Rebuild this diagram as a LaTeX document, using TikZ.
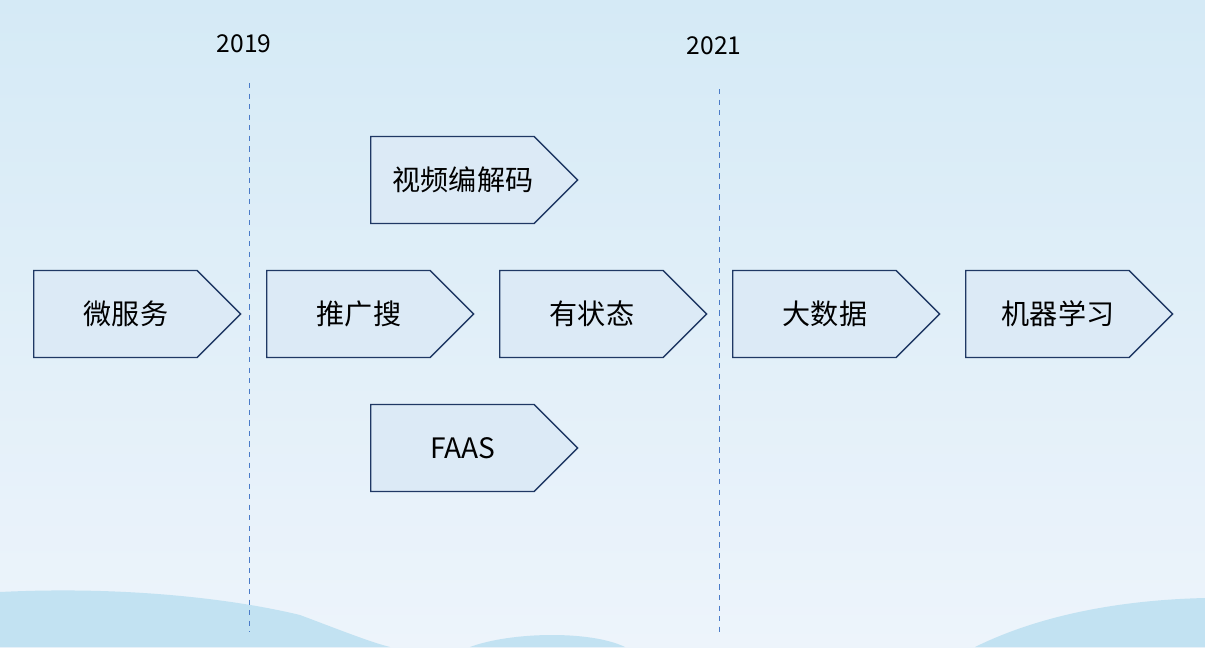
\documentclass[tikz,border=0pt]{standalone}
\usepackage{fontspec}
\setmainfont{Noto Sans CJK SC}
\usetikzlibrary{shapes.symbols,positioning}
\definecolor{skytop}{HTML}{D5EAF6}
\definecolor{skybot}{HTML}{EDF4FB}
\definecolor{wave}{HTML}{C2E2F2}
\definecolor{boxfill}{HTML}{DCEAF6}
\definecolor{boxline}{HTML}{1F3864}
\definecolor{yearline}{HTML}{4A7BC8}
\tikzset{
  stage/.style={signal, signal to=east, signal pointer angle=90, draw=boxline,
    fill=boxfill, thick, minimum width=4.14cm, minimum height=1.74cm,
    inner sep=0pt, anchor=west},
  stagetext/.style={font=\fontsize{16}{18}\selectfont, text=black},
  year/.style={font=\fontsize{14}{16}\selectfont, text=black},
  yearmark/.style={draw=yearline, dashed, line width=0.5pt}
}
\begin{document}
\begin{tikzpicture}[x=0.02cm,y=-0.02cm]
  % background
  \shade[top color=skytop, bottom color=skybot] (0,0) rectangle (1205,647);
  \useasboundingbox (0,0) rectangle (1205,647);
  \fill[wave] (0,647) -- (0,592) .. controls (120,586) and (230,598) .. (300,615)
    .. controls (340,630) and (370,642) .. (390,647) -- cycle;
  \fill[wave] (470,647) .. controls (510,632) and (590,630) .. (625,647) -- cycle;
  \fill[wave] (975,647) .. controls (1040,615) and (1120,600) .. (1205,598) -- (1205,647) -- cycle;
  % years
  \node[year] (y19) at (244,44) {2019};
  \node[year] (y21) at (714,46) {2021};
  \coordinate (y19b) at (249,632);
  \coordinate (y21b) at (719,636);
  \draw[yearmark] (249,83) -- (y19b);
  \draw[yearmark] (719,89) -- (y21b);
  % stages
  \foreach \name/\x/\y/\txt in {ms/33/314/微服务, rec/266/314/推广搜, state/499/314/有状态,
      bigdata/732/314/大数据, ml/965/314/机器学习, video/370/180/视频编解码, faas/370/448/FAAS}{
    \node[stage] (\name) at (\x,\y) {};
    \node[stagetext] (\name-t) at (\x+93,\y) {\txt};
  }
\end{tikzpicture}
\end{document}
